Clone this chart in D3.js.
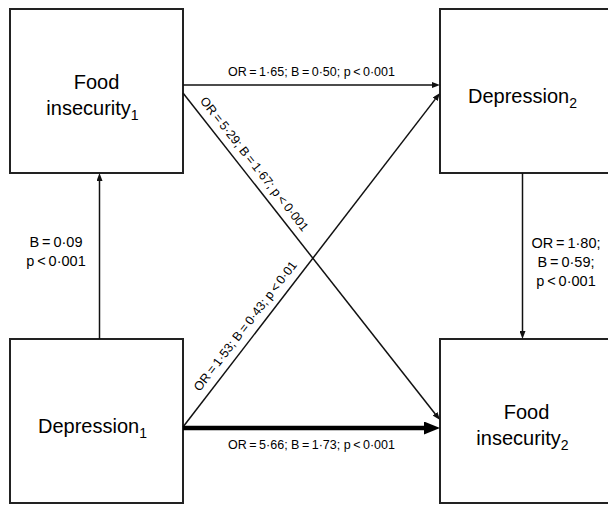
<!DOCTYPE html>
<html>
<head>
<meta charset="utf-8">
<script src="https://cdn.jsdelivr.net/npm/d3@7"></script>
<style>
    body { margin: 0; background: #fff; }
    svg { display: block; font-family: "Liberation Sans", Arial, sans-serif; }
</style>
</head>
<body>
<div class="viz"></div>
<script>
// nodes of the path model
var nodeIds = ["fi1", "dep2", "dep1", "fi2"]
var nodeNames = [["Food", "insecurity"], ["Depression"], ["Depression"], ["Food", "insecurity"]]
var nodeWaves = ["1", "2", "1", "2"]
var nodeCols = ["t1", "t2", "t1", "t2"]
var nodeRows = ["top", "top", "bottom", "bottom"]

// paths between them
var edgeFrom = ["fi1", "fi1", "dep1", "dep1", "dep1", "dep2"]
var edgeTo = ["dep2", "fi2", "dep2", "fi2", "fi1", "fi2"]
var edgeLabels = [
    ["OR\u2009=\u20091·65; B\u2009=\u20090·50; p\u2009<\u20090·001"],
    ["OR\u2009=\u20095·29; B\u2009=\u20091·67; p\u2009<\u20090·001"],
    ["OR\u2009=\u20091·53; B\u2009=\u20090·43; p\u2009<\u20090·01"],
    ["OR\u2009=\u20095·66; B\u2009=\u20091·73; p\u2009<\u20090·001"],
    ["B\u2009=\u20090·09", "p\u2009<\u20090·001"],
    ["OR\u2009=\u20091·80;", "B\u2009=\u20090·59;", "p\u2009<\u20090·001"]
]
var edgeStrong = [false, false, false, true, false, false]

var width = 608,
height = 505,
boxW = 173,
boxH = 164;

var col = d3.scalePoint().domain(["t1", "t2"]).range([10, 440])
var row = d3.scalePoint().domain(["top", "bottom"]).range([9, 339])

// where each path leaves / enters its boxes: [side, offset from box centre]
var ports = [
    [["right", -6], ["left", -6]],
    [["right", 2], ["left", -1]],
    [["right", 6], ["left", 2]],
    [["right", 7], ["left", 7]],
    [["top", 3], ["bottom", 3]],
    [["bottom", -4], ["top", -4]]
]
var labelPlace = [
    {type: "above"},
    {type: "along", t: 100},
    {type: "along", t: 118},
    {type: "below"},
    {type: "left"},
    {type: "right"}
]

var boxes = {}
nodeIds.forEach((id, i) => {
    var x = col(nodeCols[i]), y = row(nodeRows[i])
    boxes[id] = {x: x, y: y, cx: x + boxW / 2, cy: y + boxH / 2}
})

function port(id, p) {
    var b = boxes[id]
    if (p[0] == "right") return [b.x + boxW, b.cy + p[1]]
    if (p[0] == "left") return [b.x, b.cy + p[1]]
    if (p[0] == "top") return [b.cx + p[1], b.y]
    return [b.cx + p[1], b.y + boxH]
}

var svg = d3.select(".viz")
.append("svg")
.attr("width", width)
.attr("height", height)

svg.append("rect")
.attr("width", width)
.attr("height", height)
.attr("fill", "#fff")

var defs = svg.append("defs")
defs.append("marker")
.attr("id", "head")
.attr("markerUnits", "userSpaceOnUse")
.attr("markerWidth", 8)
.attr("markerHeight", 6)
.attr("refX", 0)
.attr("refY", 3)
.attr("orient", "auto")
.append("path")
.attr("d", "M0,0L8,3L0,6Z")
.attr("fill", "#111")

defs.append("marker")
.attr("id", "headBig")
.attr("markerUnits", "userSpaceOnUse")
.attr("markerWidth", 16)
.attr("markerHeight", 13)
.attr("refX", 0)
.attr("refY", 6.5)
.attr("orient", "auto")
.append("path")
.attr("d", "M0,0L16,6.5L0,13Z")
.attr("fill", "#000")

// boxes
var node = svg.selectAll(".node")
.data(nodeIds)
.enter().append("g")
.attr("class", "node")

node.append("rect")
.attr("x", (d) => boxes[d].x)
.attr("y", (d) => boxes[d].y)
.attr("width", boxW)
.attr("height", boxH)
.attr("fill", "none")
.attr("stroke", "#222")
.attr("stroke-width", 2)

node.each(function(d, i) {
    var b = boxes[d], lines = nodeNames[i]
    var y0 = lines.length == 1 ? b.cy + 11.5 : b.cy - 2
    var t = d3.select(this).append("text")
    .attr("text-anchor", "middle")
    .attr("font-size", 20)
    .attr("fill", "#000")
    lines.forEach((s, j) => {
        var last = j == lines.length - 1
        var tl = t.append("tspan")
        .attr("x", b.cx + (last ? -4 : 0))
        .attr("y", y0 + j * 25.5)
        .text(s)
        if (last) {
            t.append("tspan")
            .attr("dy", 5)
            .attr("font-size", 14)
            .text(nodeWaves[i])
        }
    })
})

// paths
edgeFrom.forEach((from, i) => {
    var a = port(from, ports[i][0]),
    b = port(edgeTo[i], ports[i][1])
    var dx = b[0] - a[0], dy = b[1] - a[1], len = Math.sqrt(dx * dx + dy * dy)
    var ux = dx / len, uy = dy / len
    var head = edgeStrong[i] ? 16 : 8

    svg.append("line")
    .attr("x1", a[0])
    .attr("y1", a[1])
    .attr("x2", b[0] - ux * head)
    .attr("y2", b[1] - uy * head)
    .attr("stroke", edgeStrong[i] ? "#000" : "#111")
    .attr("stroke-width", edgeStrong[i] ? 4.5 : 1.5)
    .attr("marker-end", edgeStrong[i] ? "url(#headBig)" : "url(#head)")

    var place = labelPlace[i], lab = edgeLabels[i]
    var mx = (a[0] + b[0]) / 2, my = (a[1] + b[1]) / 2

    if (place.type == "above" || place.type == "below") {
        svg.append("text")
        .attr("x", mx)
        .attr("y", place.type == "above" ? a[1] - 9 : a[1] + 21)
        .attr("text-anchor", "middle")
        .attr("font-size", 12.5)
        .text(lab[0])
    } else if (place.type == "along") {
        var px = a[0] + ux * place.t, py = a[1] + uy * place.t
        var ang = Math.atan2(dy, dx) * 180 / Math.PI
        svg.append("text")
        .attr("transform", "translate(" + px + "," + py + ") rotate(" + ang + ")")
        .attr("y", -8)
        .attr("text-anchor", "middle")
        .attr("font-size", 12.5)
        .text(lab[0])
    } else {
        var tx = place.type == "left" ? a[0] - 43.5 : a[0] + 43.5
        var ty = place.type == "left" ? my - 9 : my - 8
        var t = svg.append("text")
        .attr("text-anchor", "middle")
        .attr("font-size", 14.5)
        lab.forEach((s, j) => {
            t.append("tspan")
            .attr("x", tx)
            .attr("y", ty + j * 19)
            .text(s)
        })
    }
})
</script>
</body>
</html>
